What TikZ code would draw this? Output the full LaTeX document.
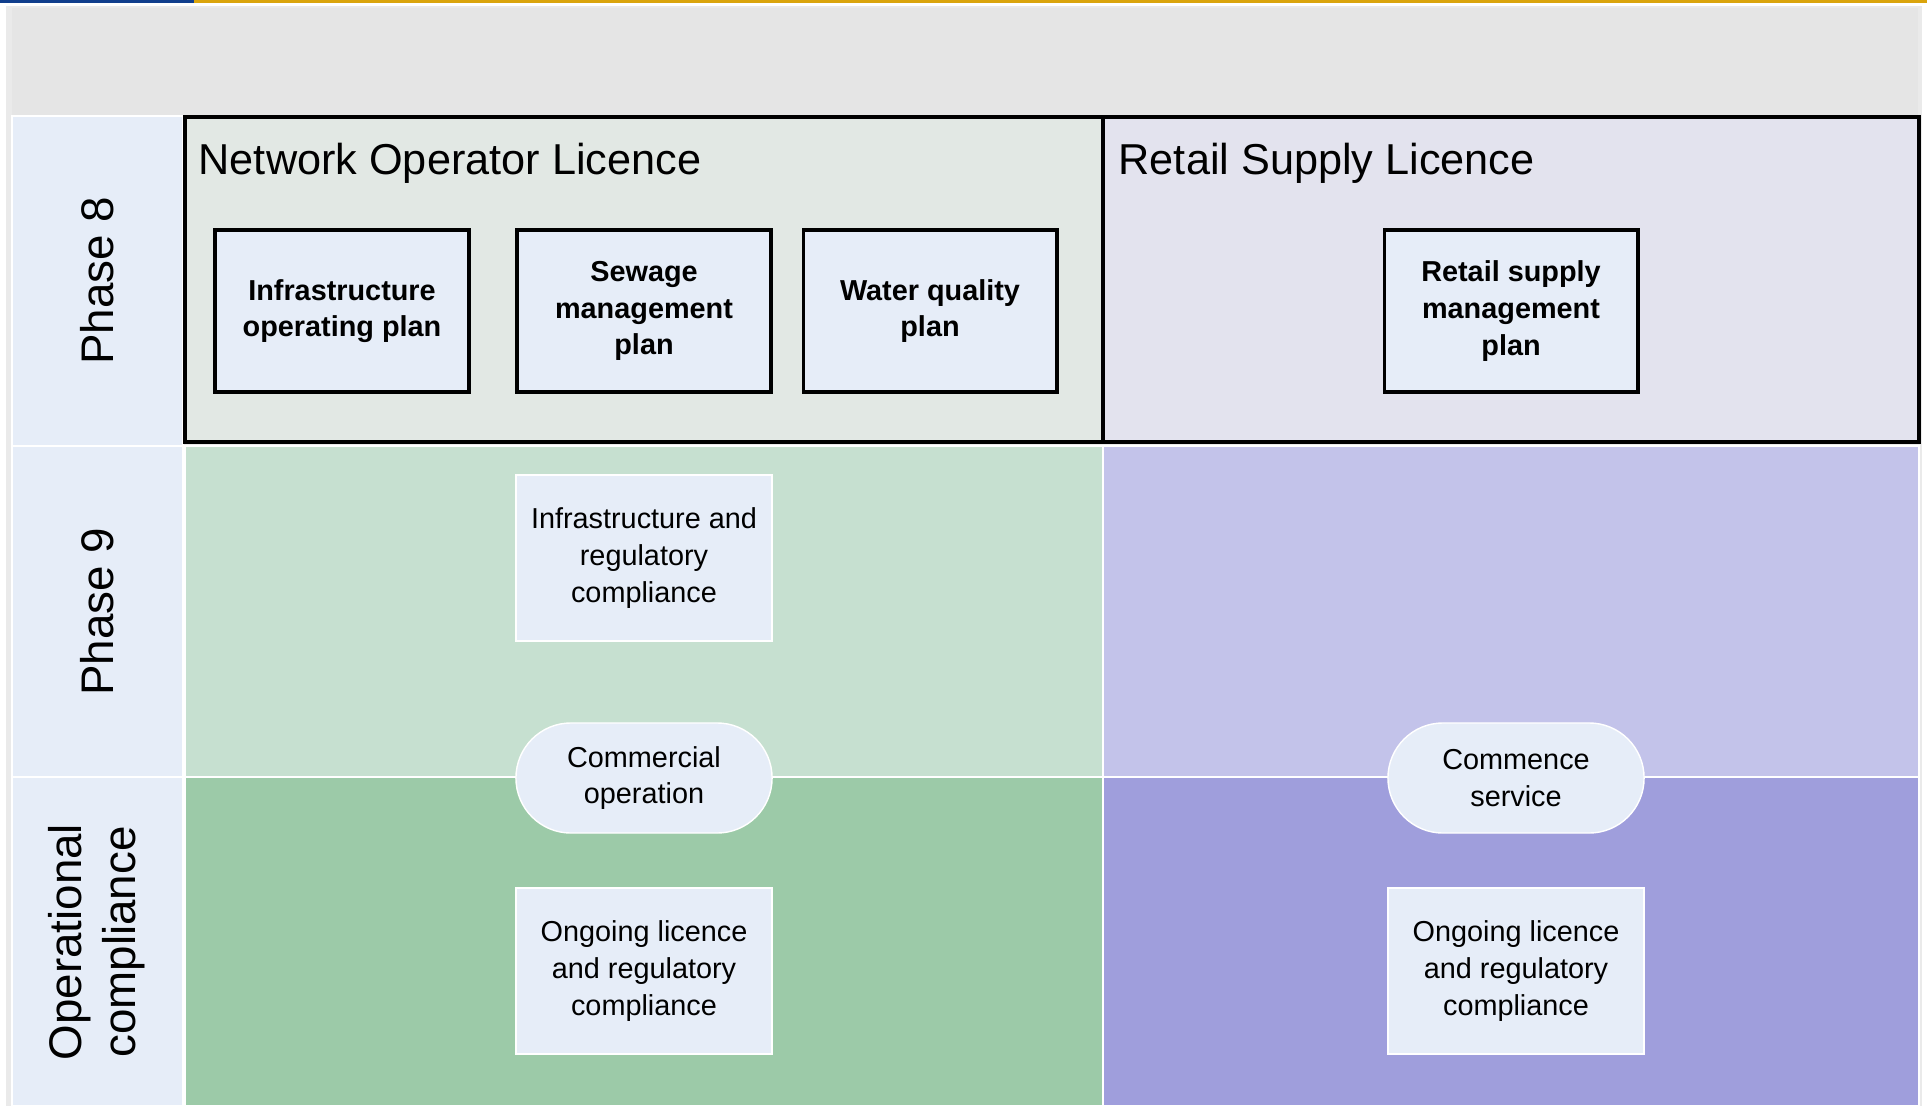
\documentclass[tikz,border=0pt]{standalone}
\usepackage{fontspec}
\setmainfont{Liberation Sans}
\usetikzlibrary{positioning}

\definecolor{topblue}{RGB}{16,62,140}
\definecolor{topgold}{RGB}{218,164,12}
\definecolor{framegray}{RGB}{234,234,234}
\definecolor{headgray}{RGB}{229,229,229}
\definecolor{laneblue}{RGB}{230,237,248}
\definecolor{netgray}{RGB}{226,232,228}
\definecolor{retgray}{RGB}{227,227,238}
\definecolor{greenlight}{RGB}{198,224,208}
\definecolor{greendark}{RGB}{156,202,168}
\definecolor{purplelight}{RGB}{195,195,234}
\definecolor{purpledark}{RGB}{159,158,220}

\begin{document}
\begin{tikzpicture}[x=0.01cm,y=-0.01cm]
	\tikzstyle{cell} = [draw=white,line width=0.5pt]
	\tikzstyle{licence} = [draw=black,line width=1.2pt]
	\tikzstyle{lanelabel} = [rotate=90,align=center,font=\fontsize{13}{15.4}\selectfont]
	\tikzstyle{title} = [anchor=base west,inner sep=0pt,font=\fontsize{12.3}{14}\selectfont]
	\tikzstyle{plan} = [draw=black,line width=1.1pt,fill=laneblue,minimum width=2.53cm,minimum height=1.62cm,inner sep=0pt,align=center,font=\bfseries\fontsize{8.2}{10.45}\selectfont]
	\tikzstyle{task} = [draw=white,line width=0.4pt,fill=laneblue,minimum width=2.56cm,minimum height=1.66cm,inner sep=0pt,align=center,font=\fontsize{8.2}{10.5}\selectfont]
	\tikzstyle{milestone} = [task,rounded corners=0.55cm,minimum height=1.1cm]

	\useasboundingbox (0,0) rectangle (1927,1106);

	% frame and header
	\fill[topblue] (0,0) rectangle (194,3);
	\fill[topgold] (194,0) rectangle (1927,3);
	\fill[framegray] (6,6) rectangle (1922,1106);
	\fill[headgray] (12,8) rectangle (1918,116);

	% lanes
	\draw[cell,fill=laneblue] (12,116) rectangle (183,446);
	\draw[cell,fill=laneblue] (12,446) rectangle (183,777);
	\draw[cell,fill=laneblue] (12,777) rectangle (183,1106);
	\draw[cell,fill=greenlight] (185,446) rectangle (1103,777);
	\draw[cell,fill=purplelight] (1103,446) rectangle (1919,777);
	\draw[cell,fill=greendark] (185,777) rectangle (1103,1106);
	\draw[cell,fill=purpledark] (1103,777) rectangle (1919,1106);

	\node[lanelabel] (ph8) at (97,281) {Phase 8};
	\node[lanelabel] (ph9) at (97,612) {Phase 9};
	\node[lanelabel] (opc) at (97,942) {Operational\\compliance};

	% licences
	\draw[licence,fill=netgray] (185,117) rectangle (1103,442);
	\draw[licence,fill=retgray] (1103,117) rectangle (1919,442);
	\node[title] (nol) at (198,174) {Network Operator Licence};
	\node[title] (rsl) at (1118,174) {Retail Supply Licence};

	\node[plan] (iop) at (342,311) {Infrastructure\\operating plan};
	\node[plan] (smp) at (644,311) {Sewage\\management\\plan};
	\node[plan] (wqp) at (930,311) {Water quality\\plan};
	\node[plan] (rsmp) at (1511,311) {Retail supply\\management\\plan};

	% phase 9 and operation
	\node[task] (irc) at (644,558) {Infrastructure and\\regulatory\\compliance};
	\node[milestone] (cop) at (644,778) {Commercial\\operation};
	\node[milestone] (csv) at (1516,778) {Commence\\service};
	\node[task] (olrc) at (644,971) {Ongoing licence\\and regulatory\\compliance};
	\node[task] (olrc2) at (1516,971) {Ongoing licence\\and regulatory\\compliance};
\end{tikzpicture}
\end{document}
